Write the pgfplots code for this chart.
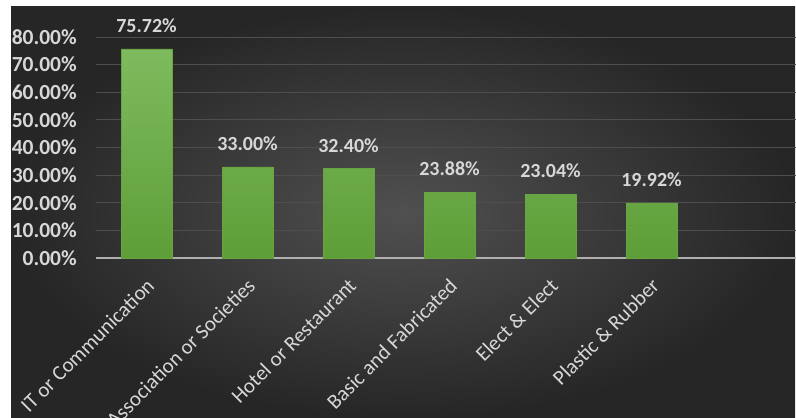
\documentclass[border=0pt]{standalone}
\usepackage{pgfplots}
\pgfplotsset{compat=1.18}
\usepackage{fontspec}
\setmainfont{Carlito}
\definecolor{bginner}{RGB}{80,80,80}
\definecolor{bgouter}{RGB}{38,38,38}
\definecolor{gridc}{RGB}{78,78,78}
\definecolor{axisc}{RGB}{175,175,175}
\definecolor{txtc}{RGB}{215,215,215}
\definecolor{bartop}{RGB}{126,187,94}
\definecolor{barbot}{RGB}{94,158,56}
\definecolor{baredge}{RGB}{104,165,66}
\begin{document}
\begin{tikzpicture}[x=1bp,y=1bp]
\useasboundingbox (0,0) rectangle (796,417);
\clip (0,0) rectangle (796,417);
\fill[white] (0,0) rectangle (796,417);
\shade[inner color=bginner, outer color=bgouter] (11,-2) rectangle (795,410);
\begin{axis}[
  at={(96bp,159bp)}, anchor=south west,
  scale only axis, width=707bp, height=221bp,
  xmin=-0.5, xmax=6.5, ymin=0, ymax=80,
  axis x line=bottom, axis y line=left,
  x axis line style={-, draw=axisc, line width=1.6bp},
  y axis line style={draw=none},
  major tick length=0pt,
  ytick={0,10,...,80},
  yticklabels={0.00\%,10.00\%,20.00\%,30.00\%,40.00\%,50.00\%,60.00\%,70.00\%,80.00\%},
  yticklabel style={font=\fontsize{21.5bp}{23bp}\selectfont\bfseries, text=txtc, anchor=east, inner sep=0pt, xshift=-19bp},
  ymajorgrids, major grid style={draw=gridc, line width=1bp},
  xtick={0,1,2,3,4,5},
  xticklabels={IT or Communication, Association or Societies, Hotel or Restaurant, Basic and Fabricated, Elect \& Elect, Plastic \& Rubber},
  xticklabel style={font=\fontsize{21bp}{23bp}\selectfont, text=txtc, inner sep=0pt, xshift=4bp, yshift=-24bp, rotate=45, anchor=east},
  clip=false,
  /pgf/number format/assume math mode=true,
]
\addplot[ybar, bar width=51bp, draw=baredge, line width=0.6bp, top color=bartop, bottom color=barbot,
  nodes near coords, point meta=explicit symbolic,
  every node near coord/.append style={font=\fontsize{20bp}{22bp}\selectfont\bfseries, text=txtc, inner sep=0pt, anchor=south, yshift=16bp}]
coordinates {(0,75.72)[75.72\%] (1,33.00)[33.00\%] (2,32.40)[32.40\%] (3,23.88)[23.88\%] (4,23.04)[23.04\%] (5,19.92)[19.92\%]};
\end{axis}
\end{tikzpicture}
\end{document}
